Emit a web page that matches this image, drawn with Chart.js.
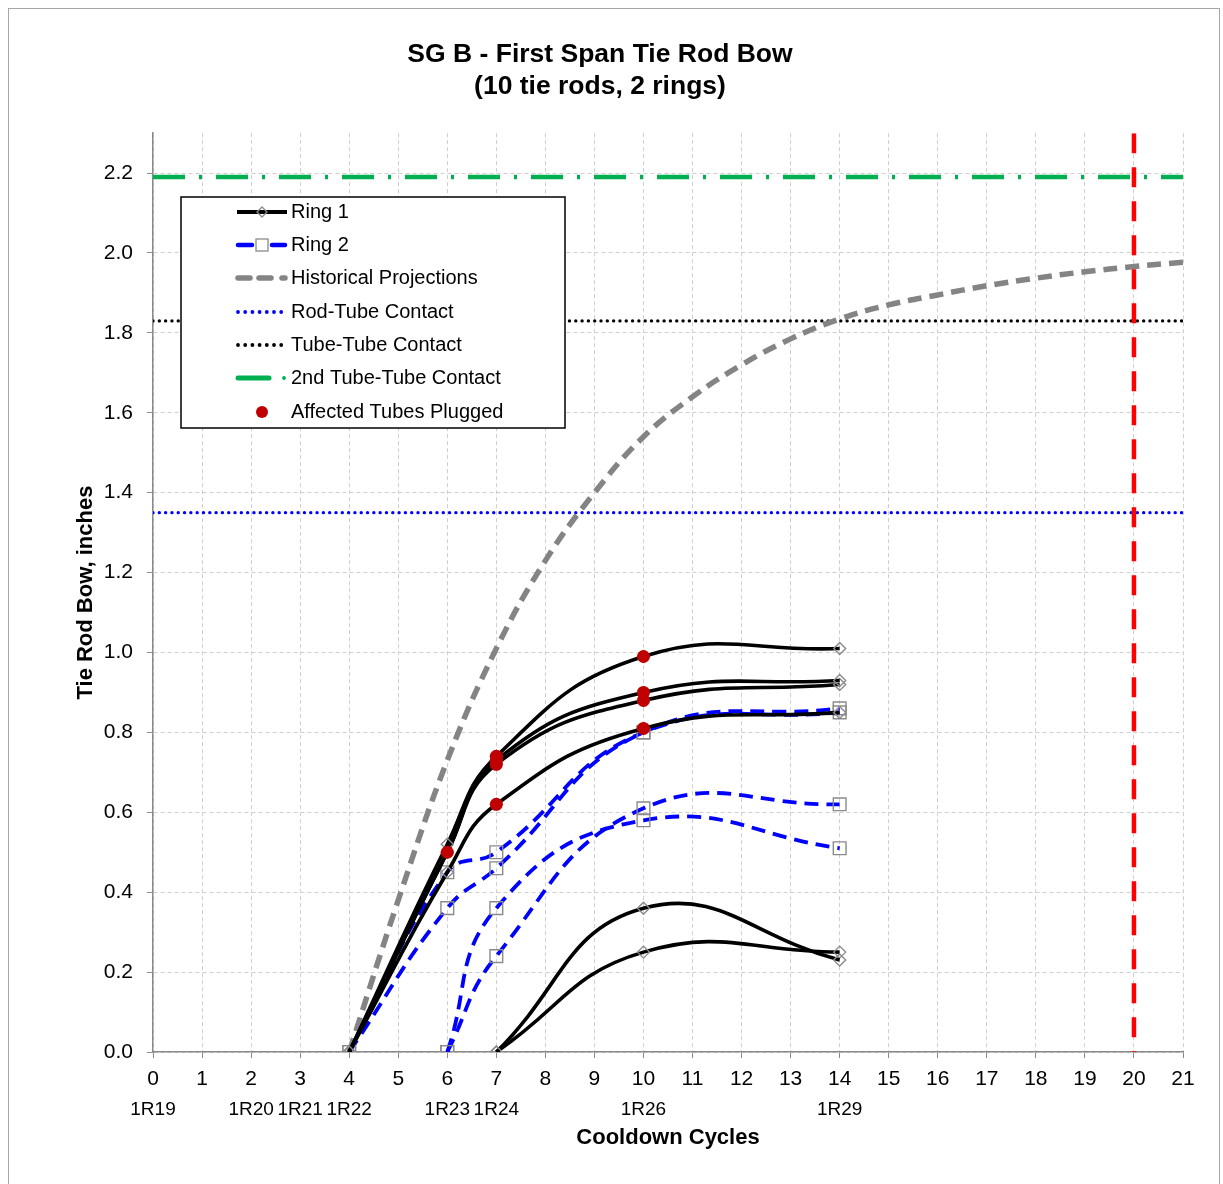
<!DOCTYPE html>
<html>
<head>
<meta charset="utf-8">
<title>SG B - First Span Tie Rod Bow</title>
<script src="https://cdn.jsdelivr.net/npm/chart.js@4.4.1/dist/chart.umd.min.js"></script>
<style>
  html, body { margin: 0; padding: 0; background: #fff; }
  #wrap { width: 1223px; height: 1184px; }
</style>
</head>
<body>
<div id="wrap"><canvas id="bowChart" width="1223" height="1184"></canvas></div>
<script>
// Outage names shown under the cycle numbers
const outageCycles = [0, 2, 3, 4, 6, 7, 10, 14];
const outageNames = ['1R19', '1R20', '1R21', '1R22', '1R23', '1R24', '1R26', '1R29'];

// Ring 1 tie rods (inches)
const ring1CyclesA = [4, 6, 7, 10, 14];
const ring1Rod1 = [0, 0.52, 0.74, 0.99, 1.01];
const ring1Rod2 = [0, 0.50, 0.73, 0.90, 0.93];
const ring1Rod3 = [0, 0.50, 0.72, 0.88, 0.92];
const ring1Rod4 = [0, 0.45, 0.62, 0.81, 0.85];
const ring1CyclesB = [7, 10, 14];
const ring1Rod5 = [0, 0.36, 0.23];
const ring1Rod6 = [0, 0.25, 0.25];

// Ring 2 tie rods (inches)
const ring2CyclesA = [4, 6, 7, 10, 14];
const ring2Rod1 = [0, 0.45, 0.50, 0.80, 0.85];
const ring2Rod2 = [0, 0.36, 0.46, 0.80, 0.86];
const ring2CyclesB = [6, 7, 10, 14];
const ring2Rod3 = [0, 0.24, 0.61, 0.62];
const ring2Rod4 = [0, 0.36, 0.58, 0.51];

// Affected tubes plugged
const pluggedCycles = [6, 7, 7, 7, 7, 10, 10, 10, 10];
const pluggedBow = [0.50, 0.74, 0.73, 0.72, 0.62, 0.99, 0.90, 0.88, 0.81];

// Historical projection curve
const projCycles = [4, 5, 6, 7, 8, 9, 10, 11, 12, 13, 14, 15, 16, 17, 18, 19, 20, 21];
const projBow = [0, 0.38, 0.73, 1.01, 1.23, 1.40, 1.54, 1.64, 1.72, 1.785, 1.835, 1.87, 1.895, 1.918, 1.937, 1.953, 1.966, 1.977];

// Contact limits and evaluation cycle
const rodTubeContact = 1.35;
const tubeTubeContact = 1.83;
const secondTubeTubeContact = 2.19;
const evaluationCycle = 20;

const toPoints = (xs, ys) => xs.map((x, i) => ({ x: x, y: ys[i] }));
const hLine = (v) => [{ x: 0, y: v }, { x: 21, y: v }];

const ring1Style = {
    borderColor: '#000',
    borderWidth: 3.6,
    tension: 0.45,
    pointStyle: 'rectRot',
    pointRadius: 6,
    pointBorderColor: '#8a8a8a',
    pointBorderWidth: 1.4,
    pointBackgroundColor: 'rgba(255,255,255,0)',
    order: 2
};
const ring2Style = {
    borderColor: '#0000ff',
    borderWidth: 3.8,
    borderDash: [14, 8],
    tension: 0.45,
    pointStyle: 'rect',
    pointRadius: 9,
    pointBorderColor: '#8a8a8a',
    pointBorderWidth: 1.4,
    pointBackgroundColor: 'rgba(255,255,255,0)',
    order: 3
};

const datasets = [
    ...[ring1Rod1, ring1Rod2, ring1Rod3, ring1Rod4].map(r => Object.assign({ label: 'Ring 1', data: toPoints(ring1CyclesA, r) }, ring1Style)),
    ...[ring1Rod5, ring1Rod6].map(r => Object.assign({ label: 'Ring 1', data: toPoints(ring1CyclesB, r) }, ring1Style)),
    ...[ring2Rod1, ring2Rod2].map(r => Object.assign({ label: 'Ring 2', data: toPoints(ring2CyclesA, r) }, ring2Style)),
    ...[ring2Rod3, ring2Rod4].map(r => Object.assign({ label: 'Ring 2', data: toPoints(ring2CyclesB, r) }, ring2Style)),
    {
        label: 'Historical Projections',
        data: toPoints(projCycles, projBow),
        borderColor: '#848484',
        borderWidth: 5.5,
        borderDash: [14, 8],
        tension: 0.4,
        pointRadius: 0,
        order: 5
    },
    {
        label: 'Rod-Tube Contact',
        data: hLine(rodTubeContact),
        borderColor: '#0000ff',
        borderWidth: 3.4,
        borderDash: [0.01, 6.3],
        borderCapStyle: 'round',
        pointRadius: 0,
        order: 6
    },
    {
        label: 'Tube-Tube Contact',
        data: hLine(tubeTubeContact),
        borderColor: '#000',
        borderWidth: 3.4,
        borderDash: [0.01, 6.3],
        borderCapStyle: 'round',
        pointRadius: 0,
        order: 6
    },
    {
        label: '2nd Tube-Tube Contact',
        data: hLine(secondTubeTubeContact),
        borderColor: '#00b050',
        borderWidth: 4.5,
        borderDash: [32, 14, 3, 14],
        pointRadius: 0,
        order: 6
    },
    {
        label: 'Evaluation',
        data: [{ x: evaluationCycle, y: 2.3 }, { x: evaluationCycle, y: 0 }],
        borderColor: '#ff0000',
        borderWidth: 4.5,
        borderDash: [20, 14],
        pointRadius: 0,
        order: 4
    },
    {
        label: 'Affected Tubes Plugged',
        data: toPoints(pluggedCycles, pluggedBow),
        showLine: false,
        pointStyle: 'circle',
        pointRadius: 6.5,
        pointBackgroundColor: '#c00000',
        pointBorderColor: '#c00000',
        pointBorderWidth: 0,
        order: 1
    }
];

// white background + thin frame around the figure
const framePlugin = {
    id: 'frame',
    beforeDraw(chart) {
        const ctx = chart.ctx;
        ctx.save();
        ctx.fillStyle = '#fff';
        ctx.fillRect(0, 0, chart.width, chart.height);
        ctx.strokeStyle = '#a6a6a6';
        ctx.lineWidth = 1;
        ctx.strokeRect(8.5, 8.5, 1211, 1200);
        ctx.restore();
    }
};

// inset legend, like the spreadsheet one
const legendPlugin = {
    id: 'insetLegend',
    afterDraw(chart) {
        const ctx = chart.ctx;
        const rows = [212, 245, 278, 312, 345, 378, 412];
        const labels = ['Ring 1', 'Ring 2', 'Historical Projections', 'Rod-Tube Contact',
            'Tube-Tube Contact', '2nd Tube-Tube Contact', 'Affected Tubes Plugged'];
        ctx.save();
        ctx.fillStyle = '#fff';
        ctx.fillRect(181, 197, 384, 231);
        ctx.strokeStyle = '#000';
        ctx.lineWidth = 1.5;
        ctx.strokeRect(181, 197, 384, 231);

        const seg = (x1, x2, y, color, w, cap) => {
            ctx.beginPath();
            ctx.strokeStyle = color;
            ctx.lineWidth = w;
            ctx.lineCap = cap || 'butt';
            ctx.moveTo(x1, y);
            ctx.lineTo(x2, y);
            ctx.stroke();
        };
        const dot = (x, y, r, color) => {
            ctx.beginPath();
            ctx.fillStyle = color;
            ctx.arc(x, y, r, 0, Math.PI * 2);
            ctx.fill();
        };

        // Ring 1
        let y = rows[0];
        seg(237, 287, y, '#000', 4);
        ctx.beginPath();
        ctx.strokeStyle = '#8a8a8a';
        ctx.lineWidth = 1.3;
        ctx.moveTo(262, y - 5); ctx.lineTo(267, y); ctx.lineTo(262, y + 5); ctx.lineTo(257, y); ctx.closePath();
        ctx.stroke();
        // Ring 2
        y = rows[1];
        seg(238, 252, y, '#0000ff', 4.5, 'round');
        seg(272, 285, y, '#0000ff', 4.5, 'round');
        ctx.fillStyle = '#fff';
        ctx.fillRect(256, y - 6, 12, 12);
        ctx.strokeStyle = '#8a8a8a';
        ctx.lineWidth = 1.3;
        ctx.strokeRect(256, y - 6, 12, 12);
        // Historical
        y = rows[2];
        seg(238, 250, y, '#848484', 5.5, 'round');
        seg(259, 271, y, '#848484', 5.5, 'round');
        seg(282, 285, y, '#848484', 5.5, 'round');
        // Rod-Tube / Tube-Tube dotted
        for (let i = 0; i < 7; i++) {
            dot(238 + i * 7.2, rows[3], 1.9, '#0000ff');
            dot(238 + i * 7.2, rows[4], 1.9, '#000');
        }
        // 2nd Tube-Tube
        y = rows[5];
        seg(238, 269, y, '#00b050', 5, 'round');
        dot(284, y, 1.9, '#00b050');
        // Plugged
        dot(262, rows[6], 6, '#c00000');

        ctx.fillStyle = '#000';
        ctx.font = '20px "Liberation Sans", Arial, sans-serif';
        ctx.textBaseline = 'middle';
        ctx.textAlign = 'left';
        labels.forEach((t, i) => ctx.fillText(t, 291, rows[i]));
        ctx.restore();
    }
};

Chart.defaults.font.family = '"Liberation Sans", Arial, sans-serif';
Chart.defaults.color = '#000';

const bowChart = new Chart(document.getElementById('bowChart').getContext('2d'), {
    type: 'line',
    data: { datasets: datasets },
    plugins: [framePlugin, legendPlugin],
    options: {
        responsive: false,
        devicePixelRatio: 1,
        animation: false,
        layout: { padding: { left: 17, right: 40, top: 0, bottom: 0 } },
        plugins: {
            legend: { display: false },
            tooltip: { enabled: false },
            title: {
                display: true,
                text: ['SG B - First Span Tie Rod Bow', '(10 tie rods, 2 rings)'],
                color: '#000',
                font: { size: 26.5, weight: 'bold', lineHeight: 1.21 },
                padding: { top: 39, bottom: 30 }
            }
        },
        scales: {
            x: {
                type: 'linear',
                position: 'bottom',
                weight: 0,
                min: 0,
                max: 21,
                ticks: {
                    stepSize: 1,
                    autoSkip: false,
                    maxRotation: 0,
                    padding: 9,
                    color: '#000',
                    font: { size: 21 }
                },
                grid: { color: '#cfcfcf', tickColor: '#8a8a8a', tickLength: 6, lineWidth: 1 },
                border: { color: '#8a8a8a', width: 1.5, dash: [4, 3] },
                afterFit: (s) => { s.height = 34; }
            },
            x2: {
                type: 'linear',
                position: 'bottom',
                weight: 1,
                min: 0,
                max: 21,
                afterBuildTicks: (s) => { s.ticks = outageCycles.map(v => ({ value: v })); },
                ticks: {
                    autoSkip: false,
                    maxRotation: 0,
                    minRotation: 0,
                    padding: 4,
                    color: '#000',
                    font: { size: 19 },
                    callback: (v) => {
                        const i = outageCycles.indexOf(v);
                        return i >= 0 ? outageNames[i] : '';
                    }
                },
                grid: { display: false },
                border: { display: false },
                title: {
                    display: true,
                    text: 'Cooldown Cycles',
                    color: '#000',
                    font: { size: 22, weight: 'bold' },
                    padding: { top: 0, bottom: 33 }
                },
                afterFit: (s) => { s.height = 98; }
            },
            y: {
                type: 'linear',
                min: 0,
                max: 2.3,
                ticks: {
                    stepSize: 0.2,
                    includeBounds: false,
                    padding: 14,
                    color: '#000',
                    font: { size: 21 },
                    callback: (v) => v.toFixed(1)
                },
                grid: { color: '#cfcfcf', tickColor: '#8a8a8a', tickLength: 6, lineWidth: 1 },
                border: { color: '#8a8a8a', width: 1.5, dash: [4, 3] },
                title: {
                    display: true,
                    text: 'Tie Rod Bow, inches',
                    color: '#000',
                    font: { size: 22, weight: 'bold' },
                    padding: { top: 56, bottom: 0 }
                },
                afterFit: (s) => { s.width = 136; }
            }
        }
    }
});
</script>
</body>
</html>
